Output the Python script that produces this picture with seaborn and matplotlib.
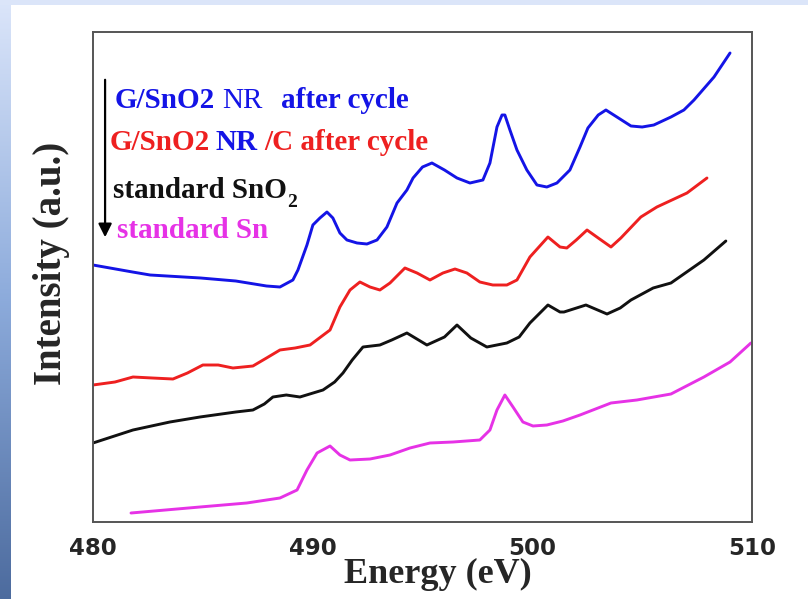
import numpy as np
import pandas as pd
import matplotlib
matplotlib.use("Agg")
import matplotlib.pyplot as plt
import seaborn as sns

sns.set_style("white")
plt.rcParams['font.family'] = ['Liberation Serif', 'DejaVu Serif']

## spectra (energy in eV, intensity in a.u. incl. stacking offset)
e_blue = [480.0, 481.8, 482.6, 484.9, 486.5, 487.9, 488.51, 489.10, 489.33, 489.74, 490.01, 490.33,
          490.65, 490.92, 491.24, 491.56, 492.02, 492.47, 492.93, 493.38, 493.84, 494.29, 494.57, 495.0,
          495.43, 496.0, 496.57, 497.16, 497.75, 498.07, 498.39, 498.62, 498.75, 498.98, 499.30, 499.75,
          500.21, 500.66, 501.12, 501.71, 502.17, 502.53, 503.0, 503.35, 503.85, 504.49, 505.0, 505.53,
          506.31, 506.9, 507.36, 508.27, 509.0]
i_blue = [257, 250, 247, 244, 241, 236, 235, 242, 252, 277, 297, 304,
          310, 304, 289, 282, 279, 278, 282, 295, 319, 332, 344, 355,
          359, 352, 344, 339, 342, 359, 395, 407, 407, 392, 372, 352,
          337, 335, 339, 352, 375, 394, 407, 412, 405, 396, 395, 397,
          405, 412, 422, 445, 469]

e_red = [480.0, 481.0, 481.82, 482.7, 483.64, 484.3, 485.0, 485.7, 486.37, 487.28, 487.9, 488.51,
         489.2, 489.88, 490.79, 491.24, 491.70, 492.15, 492.61, 493.06, 493.52, 494.20, 494.75, 495.34,
         495.93, 496.48, 497.02, 497.61, 498.2, 498.84, 499.3, 499.89, 500.71, 501.26, 501.57, 502.0,
         502.49, 503.0, 503.58, 504.03, 504.94, 505.67, 507.04, 507.95]
i_red = [137, 140, 145, 144, 143, 149, 157, 157, 154, 156, 164, 172,
         174, 177, 192, 215, 232, 240, 235, 232, 239, 254, 249, 242,
         249, 253, 249, 240, 237, 237, 242, 265, 285, 275, 274, 282,
         292, 284, 275, 284, 305, 315, 329, 344]

e_black = [480.0, 481.82, 483.5, 484.87, 486.5, 487.28, 487.8, 488.19, 488.8, 489.42, 490.47, 491.0,
           491.38, 491.8, 492.29, 493.06, 493.6, 494.29, 495.2, 496.0, 496.57, 497.2, 497.93, 498.84,
           499.4, 499.89, 500.71, 501.26, 501.44, 502.44, 503.4, 504.0, 504.49, 505.5, 506.31, 507.81,
           508.81]
i_black = [79, 92, 100, 105, 110, 112, 118, 125, 127, 125, 132, 140,
           149, 162, 175, 177, 182, 189, 177, 185, 197, 184, 175, 179,
           185, 199, 217, 210, 210, 217, 208, 214, 222, 234, 239, 262,
           281]

e_mag = [481.73, 484.87, 487.0, 488.51, 489.29, 489.74, 490.20, 490.79, 491.24, 491.70, 492.61, 493.52,
         494.43, 495.34, 496.39, 497.61, 498.07, 498.39, 498.75, 499.12, 499.57, 500.03, 500.66, 501.39,
         502.17, 503.58, 504.76, 506.31, 507.81, 509.0, 509.95]
i_mag = [9, 15, 19, 24, 32, 52, 69, 76, 67, 62, 63, 67,
         74, 79, 80, 82, 92, 112, 127, 115, 100, 96, 97, 101,
         107, 119, 122, 128, 145, 160, 179]

xticks = [480, 490, 500, 510]
xminor = [485, 495, 505]

C_BLUE = '#1414e6'
C_RED = '#ee2020'
C_BLACK = '#111111'
C_MAG = '#e632e6'

fig = plt.figure(figsize=(8.08, 5.99), dpi=100)

# slide background bits (light strip on top, blue strip on the left)
h, w = 599, 11
t = np.linspace(0, 1, h)[:, None]
top_c = np.array([0.86, 0.90, 0.98])
mid_c = np.array([0.55, 0.67, 0.86])
bot_c = np.array([0.30, 0.42, 0.62])
grad = np.where(t < 0.5, top_c + (mid_c - top_c) * (t / 0.5), mid_c + (bot_c - mid_c) * ((t - 0.5) / 0.5))
left_strip = np.repeat(grad[:, None, :], w, axis=1)
fig.figimage(left_strip, xo=0, yo=0, origin='upper', zorder=0)
top_strip = np.ones((5, 808, 3)) * np.array([0.86, 0.90, 0.98])
fig.figimage(top_strip, xo=0, yo=594, origin='upper', zorder=0)

ax = fig.add_axes([93 / 808, 77 / 599, 659 / 808, 490 / 599])

series = [(e_blue, i_blue, C_BLUE), (e_red, i_red, C_RED),
          (e_black, i_black, C_BLACK), (e_mag, i_mag, C_MAG)]
for ee, ii, c in series:
    df = pd.DataFrame({'E': ee, 'I': ii})
    sns.lineplot(data=df, x='E', y='I', ax=ax, color=c, linewidth=2.1, estimator=None,
                 solid_joinstyle='round', solid_capstyle='round')

ax.set_xlim(480, 510)
ax.set_ylim(0, 490)
ax.set_xticks(xticks)
ax.set_xticks(xminor, minor=True)
ax.set_xticklabels([str(v) for v in xticks], fontfamily='DejaVu Sans', fontweight='bold', fontsize=16.5)
ax.set_yticks([])
ax.tick_params(axis='x', which='major', direction='in', length=6, width=1.2, pad=11, color='#444444')
ax.tick_params(axis='x', which='minor', direction='in', length=3, width=1.2, color='#444444')
for sp in ax.spines.values():
    sp.set_color('#555555')
    sp.set_linewidth(1.4)

ax.set_xlabel('Energy (eV)', fontsize=26, fontweight='bold')
ax.xaxis.set_label_coords(0.5235, -0.073)
ax.set_ylabel('Intensity (a.u.)', fontsize=28, fontweight='bold')
ax.yaxis.set_label_coords(-0.035, 0.527)

# legend-like labels with the arrow
FS = 21


def colored_line(x, y, pieces):
    s, c, wgt, gap, dy, fs = pieces[0]
    prev = ax.text(x, y, s, color=c, fontweight=wgt, fontsize=fs, va='baseline', ha='left')
    for s, c, wgt, gap, dy, fs in pieces[1:]:
        prev = ax.annotate(s, xy=(1, 0), xycoords=prev, xytext=(gap, dy), textcoords='offset points',
                           color=c, fontweight=wgt, fontsize=fs, va='bottom', ha='left')


colored_line(481.0, 414, [('G/SnO2', C_BLUE, 'bold', 0, 0, FS), ('NR', C_BLUE, 'normal', 5, 0, FS),
                          ('after cycle', C_BLUE, 'bold', 13.5, 0, FS)])
colored_line(480.77, 372, [('G/SnO2', C_RED, 'bold', 0, 0, FS), ('NR', C_BLUE, 'bold', 3.6, 0, FS),
                           ('/C after cycle', C_RED, 'bold', 5, 0, FS)])
colored_line(480.91, 324, [('standard SnO', C_BLACK, 'bold', 0, 0, FS), ('2', C_BLACK, 'bold', 0.5, -5, 14)])
colored_line(481.09, 284, [('standard Sn', C_MAG, 'bold', 0, 0, FS)])

ax.annotate('', xy=(480.55, 282), xytext=(480.55, 445),
            arrowprops=dict(arrowstyle='-|>', color='black', lw=1.6, mutation_scale=20))

fig.savefig('out.png', dpi=100)
